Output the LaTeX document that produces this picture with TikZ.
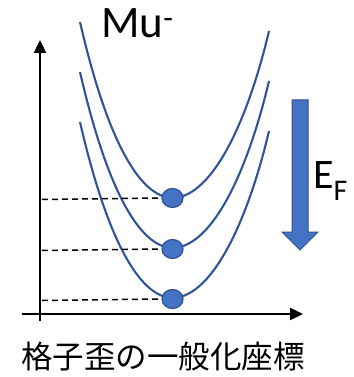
\documentclass[tikz,border=0pt]{standalone}
\usepackage{fontspec}
\setmainfont{Carlito}
\newfontfamily\jp{Noto Sans CJK JP}
\usetikzlibrary{arrows.meta,shapes.geometric}
\definecolor{curveblue}{HTML}{2F5597}
\definecolor{fillblue}{HTML}{4472C4}
\definecolor{edgeblue}{HTML}{2F528F}
\begin{document}
\begin{tikzpicture}[x=1pt,y=-1pt,
  axis/.style={line width=2.4pt,-{Triangle[length=13pt,width=12pt]}},
  well/.style={curveblue,line width=2.1pt},
  level/.style={dashed,line width=1.5pt,dash pattern=on 6pt off 4pt},
  dot/.style={ellipse,draw=edgeblue,fill=fillblue,line width=1.2pt,minimum width=21pt,minimum height=19pt,inner sep=0pt},
]
\useasboundingbox (0,0) rectangle (353,377);
% axes
\coordinate (yb) at (40,321);
\coordinate (yt) at (40,40);
\coordinate (xl) at (22,314);
\coordinate (xr) at (303,314);
\draw[axis] (yb) -- (yt);
\draw[axis] (xl) -- (xr);
% wells
\foreach \i/\d in {0/0,1/50,2/100}{
  \draw[well] (80,22+\d) .. controls (106,135+\d) and (138,197+\d) .. (172.5,198+\d)
    .. controls (215,197+\d) and (250,112+\d) .. (269,31+\d);
}
% levels
\node[dot] (d1) at (172.5,198) {};
\node[dot] (d2) at (172.5,249) {};
\node[dot] (d3) at (172.5,299) {};
\coordinate (l1) at (42,199.5);
\coordinate (l2) at (42,250.5);
\coordinate (l3) at (42,300.5);
\draw[level] (l1) -- (d1.west);
\draw[level] (l2) -- (d2.west);
\draw[level] (l3) -- (d3.west);
% Fermi arrow
\draw[draw=edgeblue,fill=fillblue,line width=1pt] (292,100) -- (308,100) -- (308,232) -- (318,232) -- (300,250) -- (282,232) -- (292,232) -- cycle;
% labels
\node[anchor=base west,inner sep=0pt,font=\fontsize{45}{45}\selectfont] (mu) at (101,37.5) {Mu\textsuperscript{-}};
\node[anchor=base west,inner sep=0pt,font=\fontsize{42}{42}\selectfont] (ef) at (313,188) {E\raisebox{-0.3em}{\fontsize{30}{30}\selectfont F}};
\node[anchor=base west,inner sep=0pt,font=\jp\fontsize{31.5}{31.5}\selectfont] (lab) at (21,368) {格子歪の一般化座標};
\end{tikzpicture}
\end{document}
